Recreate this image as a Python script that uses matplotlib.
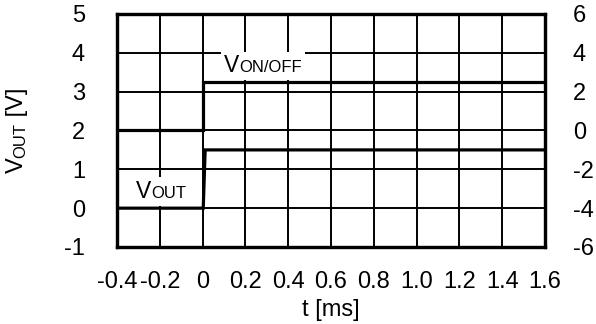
import matplotlib
matplotlib.use("Agg")
import matplotlib.pyplot as plt
from matplotlib.offsetbox import TextArea, HPacker, AnnotationBbox

plt.rcParams['font.family'] = ['Liberation Sans', 'DejaVu Sans']
plt.rcParams['axes.unicode_minus'] = False

# time axis [ms] and the two traces
t_ticks = [-0.4, -0.2, 0, 0.2, 0.4, 0.6, 0.8, 1.0, 1.2, 1.4, 1.6]
t_labels = ['-0.4', '-0.2', '0', '0.2', '0.4', '0.6', '0.8', '1.0', '1.2', '1.4', '1.6']
vout_ticks = [-1, 0, 1, 2, 3, 4, 5]
von_ticks = [-6, -4, -2, 0, 2, 4, 6]

t_out = [-0.4, 0.003, 0.012, 1.6]
v_out = [0, 0, 1.5, 1.5]
t_on = [-0.4, 0.0, 0.0, 1.6]
v_on = [0, 0, 2.5, 2.5]

fig = plt.figure(figsize=(5.96, 3.24), dpi=100)
ax = fig.add_axes([0.1963, 0.2377, 0.7181, 0.7191])
ax2 = ax.twinx()

ax.set_xlim(-0.4, 1.6)
ax.set_ylim(-1, 5)
ax2.set_ylim(-6, 6)

ax.set_xticks(t_ticks)
ax.set_xticklabels(t_labels)
ax.set_yticks(vout_ticks)
ax2.set_yticks(von_ticks)

ax.grid(True, color='black', lw=1.4)
for a in (ax, ax2):
    for s in a.spines.values():
        s.set_linewidth(2.3)
ax.tick_params(axis='x', length=0, pad=17, labelsize=17)
ax.tick_params(axis='y', length=0, pad=23, labelsize=17)
ax2.tick_params(axis='y', length=0, pad=20, labelsize=17)

ax.plot(t_out, v_out, color='black', lw=2.3, solid_joinstyle='miter')
ax2.plot(t_on, v_on, color='black', lw=2.3, solid_joinstyle='miter')


# trace labels: big "V" followed by smaller text on one baseline, white backed
def trace_label(x, y, sub):
    pack = HPacker(children=[TextArea('V', textprops=dict(fontsize=16.5)),
                             TextArea(sub, textprops=dict(fontsize=12))],
                   align='baseline', pad=0, sep=0)
    ab = AnnotationBbox(pack, (x, y), xycoords=ax.transData, box_alignment=(0, 0),
                        frameon=True, pad=0.2,
                        bboxprops=dict(facecolor='white', edgecolor='none'))
    ab.set_zorder(5)
    ax2.add_artist(ab)


trace_label(0.1, 3.37, 'ON/OFF')
trace_label(-0.31, 0.13, 'OUT')

ax.set_xlabel('t [ms]', fontsize=17, labelpad=4.5)

# rotated y label "VOUT [V]"
yl = fig.text(0.0285, 0.465, 'V', fontsize=17, rotation=90, ha='center', va='bottom')
o = ax.annotate('OUT', xy=(1, 1), xycoords=yl, fontsize=12, rotation=90,
                ha='right', va='bottom', annotation_clip=False)
ax.annotate(' [V]', xy=(1, 1), xycoords=o, fontsize=17, rotation=90,
            ha='right', va='bottom', annotation_clip=False)

fig.savefig('out.png', dpi=100)
